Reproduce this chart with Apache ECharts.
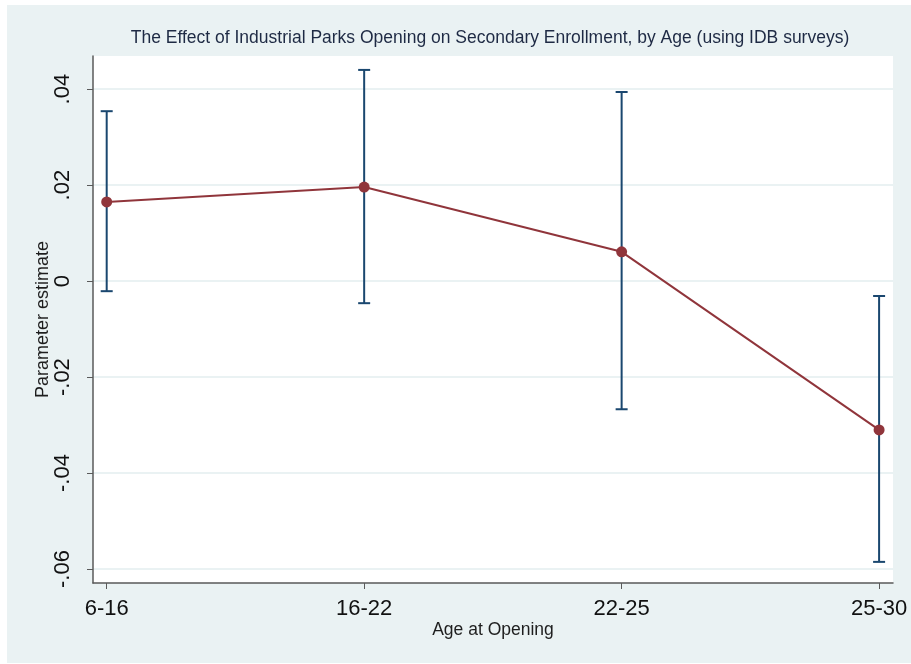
<!DOCTYPE html>
<html>
<head>
<meta charset="utf-8">
<script src="https://cdn.jsdelivr.net/npm/echarts@6/dist/echarts.min.js"></script>
<style>
html,body{margin:0;padding:0;background:#fff;}
#chart{width:911px;height:664px;}
</style>
</head>
<body>
<div id="chart"></div>
<script>
const categories = ['6-16', '16-22', '22-25', '25-30'];
const estimates = [0.0165, 0.0196, 0.0061, -0.0310];
const ciLow = [-0.0021, -0.0046, -0.0267, -0.0585];
const ciHigh = [0.0354, 0.0440, 0.0394, -0.0031];
const yTicks = [-0.06, -0.04, -0.02, 0, 0.02, 0.04];
const xTicks = [0, 1, 2, 3];

const FONT = '"Liberation Sans", Arial, sans-serif';

function fmtY(v) {
  if (Math.abs(v) < 1e-9) return '0';
  const s = Math.abs(v).toFixed(2).replace(/^0/, '');
  return (v < 0 ? '-' : '') + s;
}

const lineData = estimates.map((v, i) => [i, v]);
const errData = categories.map((c, i) => [i, ciLow[i], ciHigh[i]]);

const chart = echarts.init(document.getElementById('chart'), null, {renderer: 'canvas'});
chart.setOption({
  backgroundColor: '#ffffff',
  animation: false,
  graphic: [{
    type: 'rect', z: -10, silent: true,
    shape: {x: 7, y: 5, width: 904, height: 658},
    style: {fill: '#eaf2f3'}
  }],
  title: {
    text: 'The Effect of Industrial Parks Opening on Secondary Enrollment, by Age (using IDB surveys)',
    left: 485, top: 24, textAlign: 'center',
    textStyle: {fontFamily: FONT, fontSize: 17.5, fontWeight: 'normal', color: '#1e2a44'}
  },
  grid: {
    left: 93, top: 56, right: 18, bottom: 81,
    show: true, backgroundColor: '#ffffff', borderWidth: 0
  },
  xAxis: {
    type: 'value', min: -0.0532, max: 3.054,
    name: 'Age at Opening', nameLocation: 'middle', nameGap: 38,
    nameMoveOverlap: false,
    nameTextStyle: {fontFamily: FONT, fontSize: 17.5, color: '#1e1e1e'},
    axisLine: {show: true, onZero: false, lineStyle: {color: '#5a5a5a', width: 1.5}},
    axisTick: {show: true, length: 6, customValues: xTicks, lineStyle: {color: '#5a5a5a', width: 1}},
    axisLabel: {
      customValues: xTicks, margin: 15,
      formatter: v => categories[Math.round(v)] || '',
      fontFamily: FONT, fontSize: 22, color: '#111'
    },
    splitLine: {show: false}
  },
  yAxis: {
    type: 'value', min: -0.0629, max: 0.0469,
    name: 'Parameter estimate', nameLocation: 'middle', nameGap: 41,
    nameMoveOverlap: false,
    nameTextStyle: {fontFamily: FONT, fontSize: 18, color: '#1e1e1e'},
    axisLine: {show: true, onZero: false, lineStyle: {color: '#5a5a5a', width: 1.5}},
    axisTick: {show: true, length: 6, customValues: yTicks, lineStyle: {color: '#5a5a5a', width: 1}},
    axisLabel: {
      customValues: yTicks, rotate: 90, margin: 19,
      formatter: fmtY,
      fontFamily: FONT, fontSize: 22, color: '#111'
    },
    splitLine: {show: true, lineStyle: {color: '#eaf2f3', width: 2}}
  },
  series: [
    {
      type: 'custom',
      data: errData,
      z: 2,
      renderItem: function (params, api) {
        const x = api.value(0);
        const lo = api.coord([x, api.value(1)]);
        const hi = api.coord([x, api.value(2)]);
        const w = 6;
        const style = {stroke: '#1a476f', lineWidth: 2, fill: null};
        return {
          type: 'group',
          children: [
            {type: 'line', shape: {x1: lo[0], y1: lo[1], x2: hi[0], y2: hi[1]}, style},
            {type: 'line', shape: {x1: hi[0] - w, y1: hi[1], x2: hi[0] + w, y2: hi[1]}, style},
            {type: 'line', shape: {x1: lo[0] - w, y1: lo[1], x2: lo[0] + w, y2: lo[1]}, style}
          ]
        };
      }
    },
    {
      type: 'line',
      data: lineData,
      z: 3,
      symbol: 'circle', symbolSize: 11,
      lineStyle: {color: '#90353b', width: 2},
      itemStyle: {color: '#90353b'}
    }
  ]
});
</script>
</body>
</html>
